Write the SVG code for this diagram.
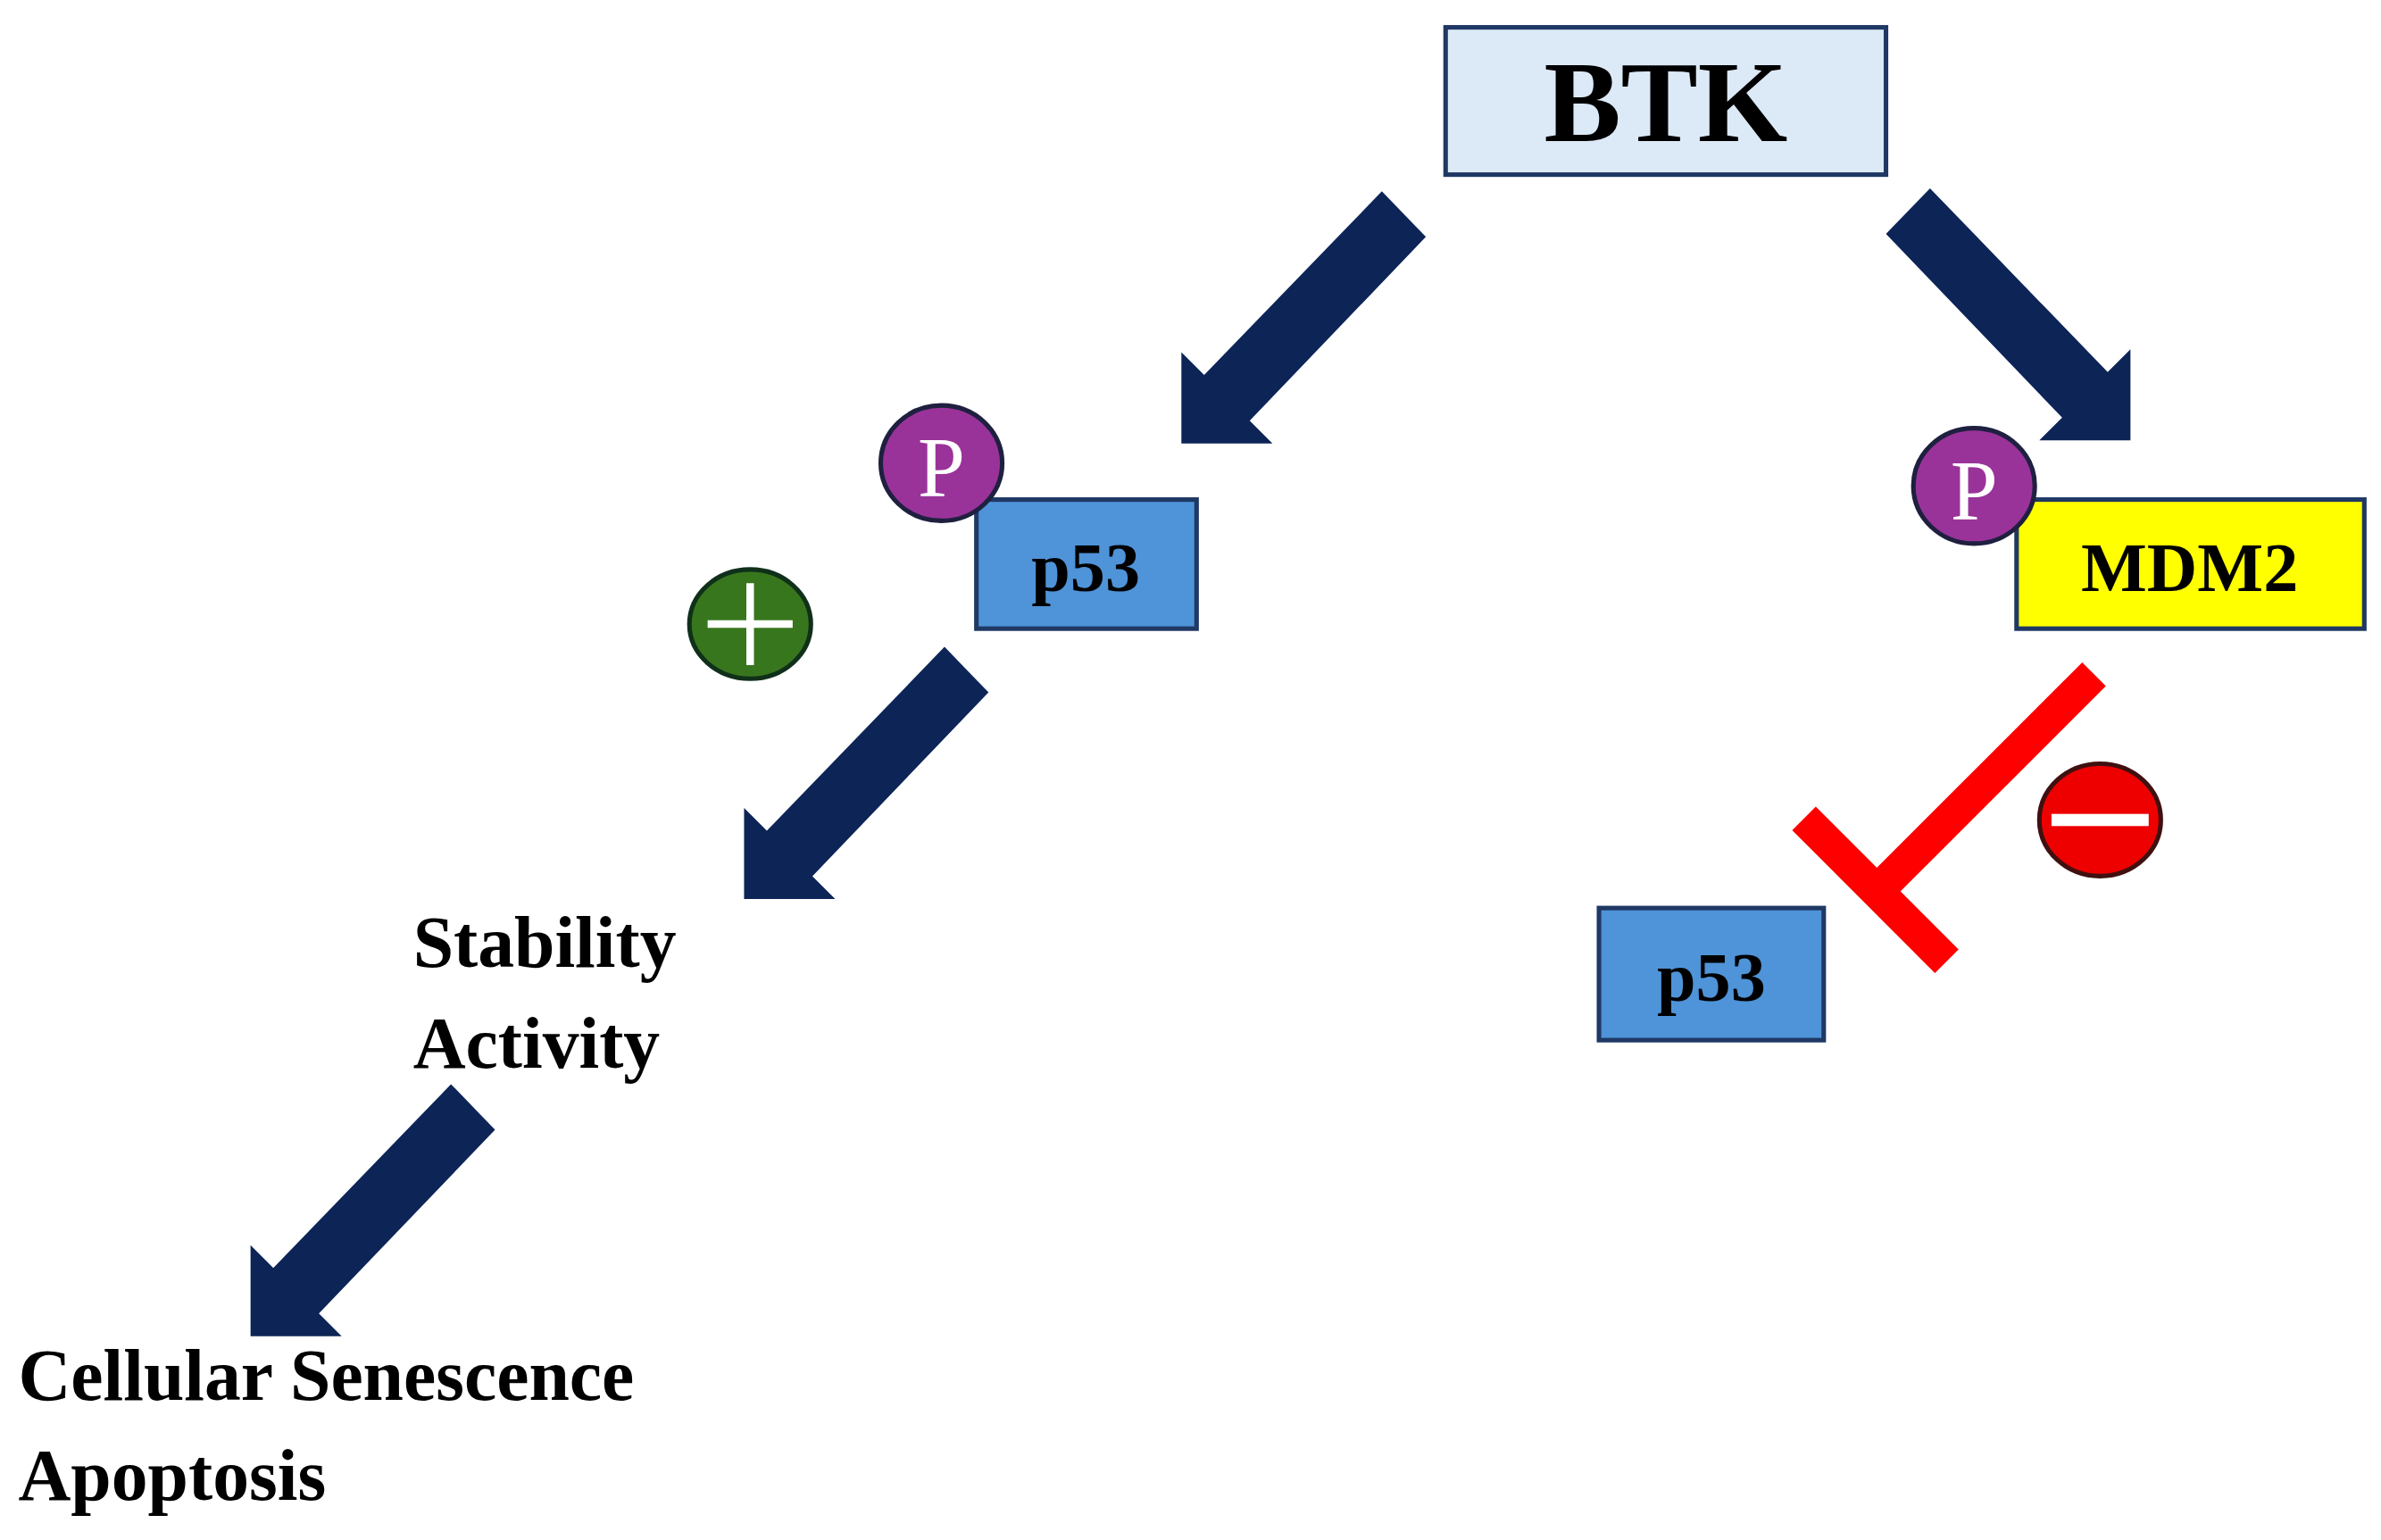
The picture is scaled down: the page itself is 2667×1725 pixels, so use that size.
<svg xmlns="http://www.w3.org/2000/svg" width="2667" height="1725" viewBox="0 0 2667 1725">
<style>
.t{font-family:"Liberation Serif","Times New Roman",serif;font-weight:bold;fill:#000}
.box{stroke:#1f3864;stroke-width:3}
.arr{fill:#0d2457}
.p{font-family:"Liberation Serif",serif;fill:#fff;font-size:56px;text-anchor:middle}
</style>
<defs>
<polygon id="ar" points="910,126 939,156 823,277 838,292 778,292 778,232 793,247"/>
</defs>
<rect width="2667" height="1725" fill="#fff"/>
<g transform="scale(1.7009)">
<g id="connectors" class="arr">
<use href="#ar"/>
<use href="#ar" transform="translate(2181,-2) scale(-1,1)"/>
<use href="#ar" transform="translate(-288,300)"/>
<use href="#ar" transform="translate(-613,588)"/>
<g stroke="#ff0000" stroke-width="22" fill="none">
<line x1="1379" y1="444" x2="1234" y2="589"/>
<line x1="1188" y1="539" x2="1282" y2="633"/>
</g>
</g>
<g id="btk"><rect class="box" x="952" y="18" width="290" height="97" fill="#dce9f6"/><text class="t" x="1097" y="93" font-size="76" text-anchor="middle">BTK</text></g>
<g id="p53a"><rect class="box" x="643" y="329" width="145" height="85" fill="#4f93d8"/><text class="t" x="715" y="389" font-size="46" text-anchor="middle">p53</text></g>
<g id="pcircle1"><ellipse cx="620" cy="305" rx="40" ry="38" fill="#993399" stroke="#1f2040" stroke-width="3"/><text class="p" x="620" y="327">P</text></g>
<g id="plus"><ellipse cx="494" cy="411" rx="40" ry="36" fill="#38761d" stroke="#10301a" stroke-width="3"/><path d="M494 384V438M466 411H522" stroke="#fff" stroke-width="5"/></g>
<g id="mdm2"><rect class="box" x="1328" y="329" width="229" height="85" fill="#ffff00"/><text class="t" x="1442" y="389" font-size="46" text-anchor="middle">MDM2</text></g>
<g id="pcircle2"><ellipse cx="1300" cy="320" rx="40" ry="38" fill="#993399" stroke="#1f2040" stroke-width="3"/><text class="p" x="1300" y="342">P</text></g>
<g id="minus"><ellipse cx="1383" cy="540" rx="40" ry="37" fill="#ee0000" stroke="#401010" stroke-width="3"/><rect x="1351" y="536" width="64" height="8" fill="#fff"/></g>
<g id="p53b"><rect class="box" x="1053" y="598" width="148" height="87" fill="#4f93d8"/><text class="t" x="1127" y="659" font-size="46" text-anchor="middle">p53</text></g>
<g id="stability"><text class="t" x="272" y="637" font-size="48">Stability</text><text class="t" x="272" y="703" font-size="48">Activity</text></g>
<g id="outcome"><text class="t" x="12" y="922" font-size="48">Cellular Senescence</text><text class="t" x="12" y="988" font-size="48">Apoptosis</text></g>
</g>
</svg>
